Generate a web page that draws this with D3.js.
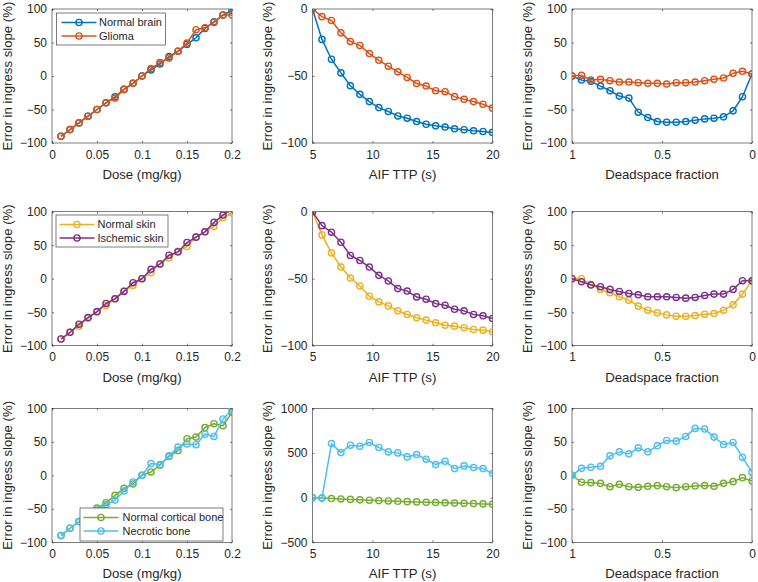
<!DOCTYPE html>
<html><head><meta charset="utf-8">
<script src="https://cdn.jsdelivr.net/npm/d3@7"></script>
<style>
html,body{margin:0;padding:0;background:#fff;}
text{font-family:"Liberation Sans",Arial,Helvetica,sans-serif;fill:#262626;}
</style></head>
<body>
<svg id="chart" width="758" height="582"></svg>
<script>
// ---- data ----
const doseX = [0.01,0.02,0.03,0.04,0.05,0.06,0.07,0.08,0.09,0.10,0.11,0.12,0.13,0.14,0.15,0.16,0.17,0.18,0.19,0.20];
const ttpX = [5,5.79,6.58,7.37,8.16,8.95,9.74,10.53,11.32,12.11,12.89,13.68,14.47,15.26,16.05,16.84,17.63,18.42,19.21,20];
const deadX = [1,0.947,0.895,0.842,0.789,0.737,0.684,0.632,0.579,0.526,0.474,0.421,0.368,0.316,0.263,0.211,0.158,0.105,0.053,0];

const doseTicks = [0,0.05,0.1,0.15,0.2];
const doseTickLabels = ["0","0.05","0.1","0.15","0.2"];
const ttpTicks = [5,10,15,20];
const deadTicks = [1,0.5,0];
const deadTickLabels = ["1","0.5","0"];
const yTicks100 = [-100,-50,0,50,100];
const yTicksNeg = [-100,-50,0];
const yTicksBig = [-500,0,500,1000];

// brain / glioma
const brainDose = [-90,-80,-70,-60,-50,-40,-31,-20,-11,0,9,18,29,37,47,57,71,81,91,98];
const gliomaDose = [-90,-80,-70,-60,-50,-40,-33,-20,-11,0,11,20,27,37,49,69,72,80,91,91];
const brainTTP = [0,-22.7,-37.5,-47.7,-57.3,-63.7,-69.1,-73.6,-76.5,-79.8,-81.5,-84,-86,-87.2,-88.1,-89.4,-90.1,-90.9,-91.4,-92.1];
const gliomaTTP = [0,-5.7,-8.6,-17.8,-24.2,-27.2,-33.3,-38.3,-42.7,-46.9,-51.1,-55.6,-57.5,-61,-61.7,-65.4,-67.4,-69.1,-71.1,-74];
const brainDead = [0,-6,-8,-15,-22,-30,-33,-54,-62,-68,-69,-69,-68,-66,-64,-63,-61,-52,-31,3];
const gliomaDead = [0,1,-6,-5,-7,-9,-9,-10,-11,-11,-12,-10,-10,-9,-7,-5,-3,4,7,3];

// normal / ischemic skin
const skinDose = [-90,-80,-71,-59,-50,-40,-30,-18,-10,0,9,22,31,41,48,62,70,78,91,98];
const ischDose = [-90,-80,-68,-58,-49,-37,-30,-19,-6,0,14,22,35,40,54,62,70,84,95,104];
const skinTTP = [0,-17.3,-30.7,-41.3,-49.5,-55.4,-63.1,-67.3,-70.3,-74,-76.7,-79.2,-80.9,-82.9,-84.7,-85.4,-86.6,-87.9,-88.4,-89.6];
const ischTTP = [0,-10.4,-15.3,-22.8,-32.7,-36.4,-41.3,-47.5,-51.7,-57.4,-59.2,-63.6,-65.3,-68.6,-69.8,-72.8,-74,-76.7,-77.7,-79.7];
const skinDead = [0,0,-8.5,-16,-21,-27,-32,-41,-47,-51,-54,-56,-56,-55,-53,-52,-47,-39,-23,-3];
const ischDead = [0,-4.5,-9.5,-12,-16,-19,-22,-24,-27,-27,-27,-28,-29,-28,-25,-23,-23,-16,-3,-3];

// normal cortical / necrotic bone
const boneDose = [-90,-79,-69,-60,-49,-41,-30,-19.5,-13,0,5,15,28,37,54.6,57,71.3,77,74,94];
const necrDose = [-90,-79,-69,-60,-52,-44,-37,-23.5,-10,0,17.5,16,29,42,46.7,45.7,61.5,58,84,97.5];
const boneTTP = [0,-5,-10,-15,-20,-25,-29,-33,-37,-41,-45,-48,-52,-55,-58,-61,-64,-67,-70,-73];
const necrTTP = [0,-2,605,504,587,575,617,561,512,501,456,482,430,370,407,325,355,337,325,269];
const boneDead = [0,-10.4,-11,-12,-17,-13.4,-17,-18,-16.4,-15.4,-17,-18.4,-17,-16,-15.4,-16.4,-12,-9.5,-3.5,-8.5];
const necrDead = [0,10.4,12,13.4,29,35,32,41,35,44,52,51,58,70,69,57,46,49,27,4.5];

const C = {blue:"#0072BD", orange:"#D95319", yellow:"#EDB120", purple:"#7E2F8E", green:"#77AC30", cyan:"#4DBEEE"};

const rows = [
  {top:9, series:[{name:"Normal brain",color:C.blue,d:brainDose,t:brainTTP,s:brainDead},{name:"Glioma",color:C.orange,d:gliomaDose,t:gliomaTTP,s:gliomaDead}], legend:{x:56.5,y:13,w:109,h:32,line:5,text:42.5}},
  {top:211.7, series:[{name:"Normal skin",color:C.yellow,d:skinDose,t:skinTTP,s:skinDead},{name:"Ischemic skin",color:C.purple,d:ischDose,t:ischTTP,s:ischDead}], legend:{x:56,y:215,w:112,h:32,line:3.5,text:41.5}},
  {top:408.3, series:[{name:"Normal cortical bone",color:C.green,d:boneDose,t:boneTTP,s:boneDead},{name:"Necrotic bone",color:C.cyan,d:necrDose,t:necrTTP,s:necrDead}], legend:{x:80,y:508,w:143,h:33,line:3.5,text:42.5}}
];
const colLeft = [52, 312.5, 572];
const W = 180, H = 134;

const svg = d3.select("#chart");
const fmtMinus = v => String(v).replace("-", "\u2212");
let clipId = 0;

function panel(left, top, xDomain, xTicks, xTickLabels, yDomain, yTickVals, xVals, seriesList, key, xLabel, legend) {
  const g = svg.append("g");
  const x = d3.scaleLinear().domain(xDomain).range([left, left + W]);
  const y = d3.scaleLinear().domain(yDomain).range([top + H, top]);
  const id = "clip" + (clipId++);
  svg.append("clipPath").attr("id", id).append("rect").attr("x", left).attr("y", top).attr("width", W).attr("height", H);

  // box
  g.append("rect").attr("x", left).attr("y", top).attr("width", W).attr("height", H)
    .attr("fill", "#fff").attr("stroke", "#262626").attr("stroke-width", 0.6);

  // axes with inward ticks
  const xa = d3.axisBottom(x).tickValues(xTicks).tickSize(-2).tickPadding(7)
    .tickFormat((d, i) => xTickLabels ? xTickLabels[i] : fmtMinus(d));
  const xg = g.append("g").attr("transform", `translate(0,${top + H})`).call(xa);
  const xt = g.append("g").attr("transform", `translate(0,${top})`).call(d3.axisTop(x).tickValues(xTicks).tickSize(-2).tickFormat(""));
  const ya = d3.axisLeft(y).tickValues(yTickVals).tickSize(-2).tickPadding(5).tickFormat(fmtMinus);
  const yg = g.append("g").attr("transform", `translate(${left},0)`).call(ya);
  const yr = g.append("g").attr("transform", `translate(${left + W},0)`).call(d3.axisRight(y).tickValues(yTickVals).tickSize(-2).tickFormat(""));
  [xg, xt, yg, yr].forEach(a => {
    a.select(".domain").remove();
    a.selectAll("line").attr("stroke", "#262626").attr("stroke-width", 0.6);
    a.selectAll("text").attr("font-size", 12).attr("fill", "#262626").attr("font-family", "Liberation Sans, Arial, sans-serif");
  });
  xg.selectAll("text").attr("dy", "0.71em");

  // labels
  g.append("text").attr("x", left + W / 2).attr("y", top + H + 36).attr("text-anchor", "middle")
    .attr("font-size", 13.2).text(xLabel);
  g.append("text").attr("transform", `translate(${left - 40.5},${top + H / 2}) rotate(-90)`)
    .attr("text-anchor", "middle").attr("font-size", 13.2).text("Error in ingress slope (%)");

  // series
  const plot = g.append("g").attr("clip-path", `url(#${id})`);
  seriesList.forEach(s => {
    const vals = s[key];
    const pts = xVals.map((xv, i) => [xv, vals[i]]);
    plot.append("path").datum(pts)
      .attr("d", d3.line().x(d => x(d[0])).y(d => y(d[1])))
      .attr("fill", "none").attr("stroke", s.color).attr("stroke-width", 1.5).attr("stroke-linejoin", "round");
    plot.selectAll(null).data(pts.filter(d => d[1] <= yDomain[1] && d[1] >= yDomain[0])).enter().append("circle")
      .attr("cx", d => x(d[0])).attr("cy", d => y(d[1])).attr("r", 3.1)
      .attr("fill", "none").attr("stroke", s.color).attr("stroke-width", 1.4);
  });

  if (legend) {
    const lg = g.append("g");
    lg.append("rect").attr("x", legend.x).attr("y", legend.y).attr("width", legend.w).attr("height", legend.h)
      .attr("fill", "#fff").attr("stroke", "#262626").attr("stroke-width", 0.6);
    seriesList.forEach((s, i) => {
      const cy = legend.y + 9.5 + i * 13.5;
      const x0 = legend.x + legend.line, x1 = x0 + 35;
      lg.append("line").attr("x1", x0).attr("x2", x1).attr("y1", cy).attr("y2", cy)
        .attr("stroke", s.color).attr("stroke-width", 1.5);
      lg.append("circle").attr("cx", (x0 + x1) / 2).attr("cy", cy).attr("r", 3.1)
        .attr("fill", "none").attr("stroke", s.color).attr("stroke-width", 1.4);
      lg.append("text").attr("x", legend.x + legend.text).attr("y", cy).attr("dy", "0.35em")
        .attr("font-size", 11).text(s.name);
    });
  }
}

rows.forEach((r, ri) => {
  panel(colLeft[0], r.top, [0, 0.2], doseTicks, doseTickLabels, [-100, 100], yTicks100, doseX, r.series, "d", "Dose (mg/kg)", r.legend);
  const ttpDom = ri === 2 ? [-500, 1000] : [-100, 0];
  const ttpTickVals = ri === 2 ? yTicksBig : yTicksNeg;
  panel(colLeft[1], r.top, [5, 20], ttpTicks, null, ttpDom, ttpTickVals, ttpX, r.series, "t", "AIF TTP (s)", null);
  panel(colLeft[2], r.top, [1, 0], deadTicks, deadTickLabels, [-100, 100], yTicks100, deadX, r.series, "s", "Deadspace fraction", null);
});
</script>
</body></html>
